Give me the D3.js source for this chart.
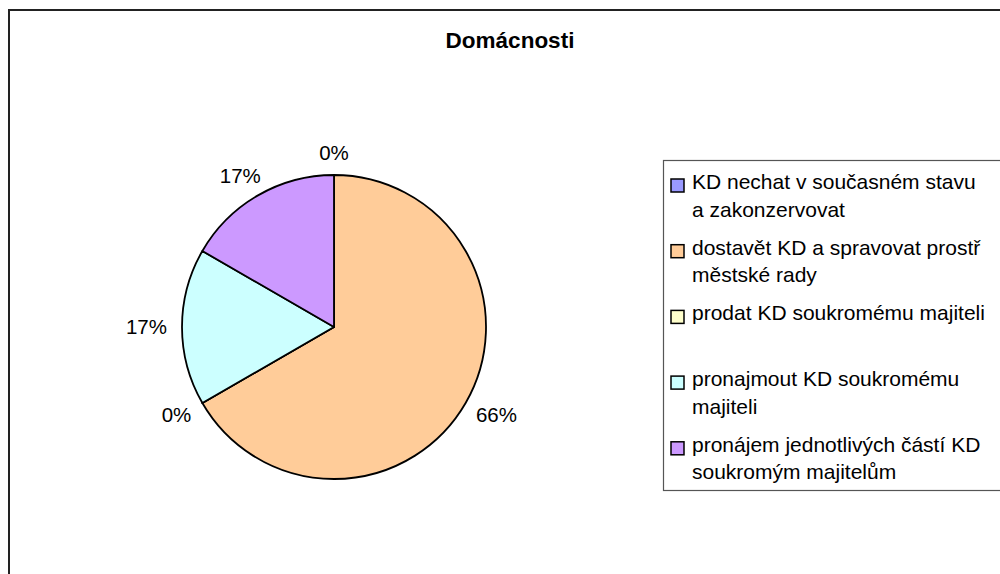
<!DOCTYPE html>
<html>
<head>
<meta charset="utf-8">
<script src="https://cdn.jsdelivr.net/npm/d3@7"></script>
<style>
  body { margin: 0; background: #fff; }
  svg { display: block; font-family: "Liberation Sans", Arial, sans-serif; }
</style>
</head>
<body>
<svg id="chart" width="1000" height="574"></svg>
<script>
// data
const title = "Domácnosti";
const categories = [
  "KD nechat v současném stavu\na zakonzervovat",
  "dostavět KD a spravovat prostř\nměstské rady",
  "prodat KD soukromému majiteli",
  "pronajmout KD soukromému\nmajiteli",
  "pronájem jednotlivých částí KD\nsoukromým majitelům"
];
const values = [0, 4, 0, 1, 1];
const pctLabels = ["0%", "66%", "0%", "17%", "17%"];
const colors = ["#9999FF", "#FFCC99", "#FFFFCC", "#CCFFFF", "#CC99FF"];

const svg = d3.select("#chart");
const width = 1000, height = 574;

// outer frame (runs off the right and bottom edges)
svg.append("rect")
  .attr("x", 9).attr("y", 10)
  .attr("width", 1100).attr("height", 700)
  .attr("fill", "#fff")
  .attr("stroke", "#222")
  .attr("stroke-width", 2);

svg.append("text")
  .attr("x", 510).attr("y", 48)
  .attr("text-anchor", "middle")
  .attr("font-weight", "bold")
  .attr("font-size", 22.5)
  .text(title);

// pie
const cx = 334, cy = 327, radius = 152;
const pie = d3.pie().value(d => d).sort(null);
const arcs = pie(values);
const arc = d3.arc().innerRadius(0).outerRadius(radius);

const g = svg.append("g").attr("transform", `translate(${cx},${cy})`);

g.selectAll("path.slice")
  .data(arcs)
  .enter()
  .append("path")
  .attr("class", "slice")
  .attr("d", arc)
  .attr("fill", (d, i) => colors[i])
  .attr("stroke", "#000")
  .attr("stroke-width", 1.8)
  .attr("stroke-linejoin", "round");

// labels outside the pie, pushed out by their own size
const labelR = 167;
const fs = 20.5;
arcs.forEach((d, i) => {
  const a = (d.startAngle + d.endAngle) / 2;
  const t = g.append("text")
    .attr("font-size", fs)
    .attr("text-anchor", "middle")
    .text(pctLabels[i]);
  const w = t.node().getComputedTextLength();
  const h = fs * 0.716;
  const x = Math.sin(a) * (labelR + w / 2);
  const y = -Math.cos(a) * (labelR + h / 2);
  t.attr("x", x).attr("y", y + h / 2);
});

// legend
const lx = 663, ly = 160;
svg.append("rect")
  .attr("x", lx + 0.5).attr("y", ly + 0.5)
  .attr("width", 400).attr("height", 330)
  .attr("fill", "#fff")
  .attr("stroke", "#555")
  .attr("stroke-width", 1.2);

const step = 65.7, lineH = 27.5;
const items = svg.append("g")
  .selectAll("g")
  .data(categories)
  .enter()
  .append("g")
  .attr("transform", (d, i) => `translate(${lx},${ly + 29 + i * step})`);

items.append("rect")
  .attr("x", 8).attr("y", -10)
  .attr("width", 13).attr("height", 13)
  .attr("fill", (d, i) => colors[i])
  .attr("stroke", "#000")
  .attr("stroke-width", 1.5);

items.append("text")
  .attr("font-size", 21)
  .selectAll("tspan")
  .data(d => d.split("\n"))
  .enter()
  .append("tspan")
  .attr("x", 29)
  .attr("y", (d, j) => j * lineH)
  .text(d => d);
</script>
</body>
</html>
